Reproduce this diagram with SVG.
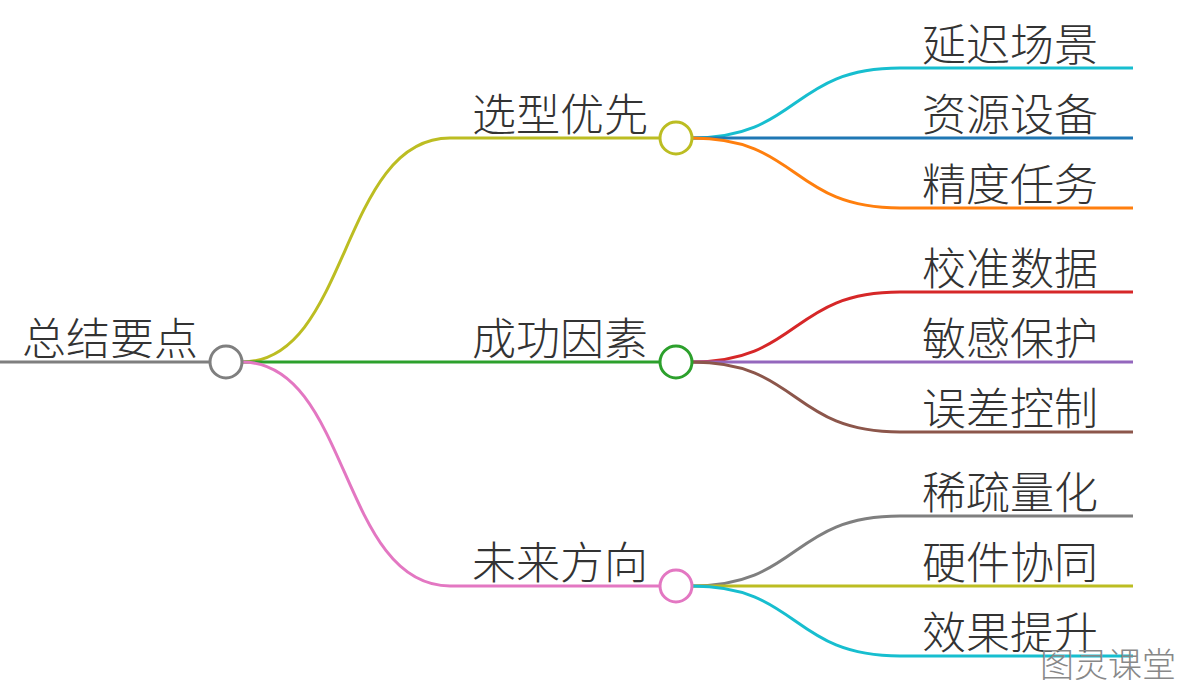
<svg xmlns="http://www.w3.org/2000/svg" width="1183" height="689" viewBox="0 0 1183 689">
<style>
text{font-family:"Noto Sans CJK SC","Noto Sans",sans-serif;font-weight:300;font-size:44px;fill:#333}
path{fill:none;stroke-width:3}
circle{fill:#fff;stroke-width:3}
</style>
<rect width="1183" height="689" fill="#fff"/>
<g id="connectors">
<path d="M0 362H210" stroke="#7f7f7f"/>
<path d="M242 362C350 362 340 138 450 138H660" stroke="#bcbd22"/>
<path d="M242 362H660" stroke="#2ca02c"/>
<path d="M242 362C350 362 340 586 450 586H660" stroke="#e377c2"/>
<path d="M692 138C800 138 790 68 900 68H1133" stroke="#17becf"/>
<path d="M692 138H1133" stroke="#1f77b4"/>
<path d="M692 138C800 138 790 208 900 208H1133" stroke="#ff7f0e"/>
<path d="M692 362C800 362 790 292 900 292H1133" stroke="#d62728"/>
<path d="M692 362H1133" stroke="#9467bd"/>
<path d="M692 362C800 362 790 432 900 432H1133" stroke="#8c564b"/>
<path d="M692 586C800 586 790 516 900 516H1133" stroke="#7f7f7f"/>
<path d="M692 586H1133" stroke="#bcbd22"/>
<path d="M692 586C800 586 790 656 900 656H1133" stroke="#17becf"/>
</g>
<g id="root"><circle cx="226" cy="362" r="16" stroke="#7f7f7f"/><text x="22" y="355">总结要点</text></g>
<g id="n1"><circle cx="676" cy="138" r="16" stroke="#bcbd22"/><text x="472" y="131">选型优先</text></g>
<g id="n2"><circle cx="676" cy="362" r="16" stroke="#2ca02c"/><text x="472" y="355">成功因素</text></g>
<g id="n3"><circle cx="676" cy="586" r="16" stroke="#e377c2"/><text x="472" y="579">未来方向</text></g>
<g id="l1"><text x="922" y="61">延迟场景</text></g>
<g id="l2"><text x="922" y="131">资源设备</text></g>
<g id="l3"><text x="922" y="201">精度任务</text></g>
<g id="l4"><text x="922" y="285">校准数据</text></g>
<g id="l5"><text x="922" y="355">敏感保护</text></g>
<g id="l6"><text x="922" y="425">误差控制</text></g>
<g id="l7"><text x="922" y="509">稀疏量化</text></g>
<g id="l8"><text x="922" y="579">硬件协同</text></g>
<g id="l9"><text x="922" y="649">效果提升</text></g>
<text x="1040" y="677" style="font-size:34px;fill:#888">图灵课堂</text>
</svg>
